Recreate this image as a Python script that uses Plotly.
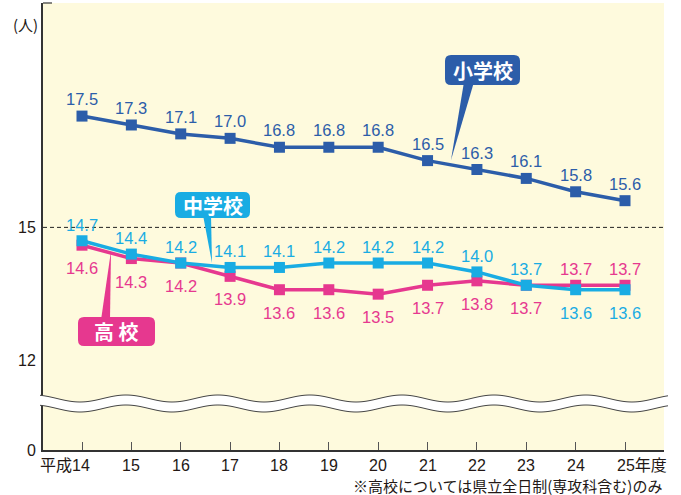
import math
import plotly.graph_objects as go

# ---- data ----
years = ["平成14", "15", "16", "17", "18", "19", "20", "21", "22", "23", "24", "25年度"]
elementary = [17.5, 17.3, 17.1, 17.0, 16.8, 16.8, 16.8, 16.5, 16.3, 16.1, 15.8, 15.6]
junior = [14.7, 14.4, 14.2, 14.1, 14.1, 14.2, 14.2, 14.2, 14.0, 13.7, 13.6, 13.6]
high = [14.6, 14.3, 14.2, 13.9, 13.6, 13.6, 13.5, 13.7, 13.8, 13.7, 13.7, 13.7]
ytick_vals = [10, 12, 15]          # broken axis: bottom of axis labelled 0
ytick_text = ["0", "12", "15"]

BLUE = "#2C5DA9"
CYAN = "#19ACE3"
PINK = "#E6388F"
BG = "#FEFADD"
TXT = "#231815"
NUM_FONT = "Liberation Sans, Noto Sans CJK JP, sans-serif"
JP_FONT = "Noto Sans CJK JP, sans-serif"

W, H = 681, 495
L, R, T, B = 43, 17, 3, 45
PW = W - L - R
PH = H - T - B


def px(x):
    return (x - L) / PW


def py(y):
    return (H - B - y) / PH


xs = list(range(len(years)))
fig = go.Figure()
for vals, col in [(high, PINK), (junior, CYAN), (elementary, BLUE)]:
    fig.add_trace(go.Scatter(
        x=xs, y=vals, mode="lines+markers",
        line=dict(color=col, width=3.5),
        marker=dict(symbol="square", size=11, color=col),
        hoverinfo="skip", showlegend=False))

ann = []
# data labels
for i, v in enumerate(elementary):
    ann.append(dict(x=i, y=v, text=f"{v:.1f}", yshift=17, showarrow=False,
                    xanchor="center", yanchor="middle",
                    font=dict(family=NUM_FONT, size=16.5, color=BLUE)))
for i, (vj, vh) in enumerate(zip(junior, high)):
    j_up = vj >= vh
    ann.append(dict(x=i, y=vj, text=f"{vj:.1f}", yshift=16 if j_up else -23, showarrow=False,
                    xanchor="center", yanchor="middle",
                    font=dict(family=NUM_FONT, size=16.5, color=CYAN)))
    ann.append(dict(x=i, y=vh, text=f"{vh:.1f}", yshift=-23 if j_up else 16, showarrow=False,
                    xanchor="center", yanchor="middle",
                    font=dict(family=NUM_FONT, size=16.5, color=PINK)))

# x tick labels
for i, lab in enumerate(years):
    if i == 0:
        anchor, shift = "right", 10
    elif i == len(years) - 1:
        anchor, shift = "left", -10
    else:
        anchor, shift = "center", 0
    ann.append(dict(x=i, y=0, xref="x", yref="paper", text=lab, showarrow=False,
                    xanchor=anchor, yanchor="top", xshift=shift, yshift=-5,
                    font=dict(family=NUM_FONT, size=16, color=TXT)))
# y tick labels
for v, t in zip(ytick_vals, ytick_text):
    ann.append(dict(x=0, y=v, xref="paper", yref="y", text=t, showarrow=False,
                    xanchor="right", yanchor="middle", xshift=-5,
                    font=dict(family=NUM_FONT, size=16, color=TXT)))

ann.append(dict(x=px(25), y=py(25), xref="paper", yref="paper", text="(人)", showarrow=False,
                xanchor="center", yanchor="middle",
                font=dict(family=JP_FONT, size=15, color=TXT)))
ann.append(dict(x=px(664), y=py(486), xref="paper", yref="paper", xanchor="right",
                yanchor="middle",
                text="※高校については県立全日制(専攻科含む)のみ", showarrow=False,
                font=dict(family=JP_FONT, size=15, color=TXT)))

shapes = []
# dashed reference line at 15
shapes.append(dict(type="line", xref="paper", yref="y", x0=0, x1=1, y0=15, y1=15,
                   line=dict(color="#222", width=1, dash="4px,3px"), layer="below"))
# small top tick
shapes.append(dict(type="line", xref="paper", yref="paper", x0=0, x1=px(52), y0=1, y1=1,
                   line=dict(color="#333", width=1.2)))

# wavy break band (decoration)
xsw = [40 + k * 2 for k in range(315)]
top = [(x, 398.5 + 3.5 * math.cos(2 * math.pi * (x - 80) / 92)) for x in xsw]
bot = [(x, y + 10) for x, y in top]


def pathpts(pts):
    return " L ".join(f"{px(x):.5f},{py(y):.5f}" for x, y in pts)


fill_path = "M " + pathpts(top + bot[::-1]) + " Z"
shapes.append(dict(type="path", xref="paper", yref="paper", path=fill_path,
                   fillcolor="white", line=dict(width=0), layer="above"))
for edge in (top, bot):
    shapes.append(dict(type="path", xref="paper", yref="paper", path="M " + pathpts(edge),
                       line=dict(color="#444", width=1), layer="above"))


def rrect(x0, y0, x1, y1, r):
    P = lambda x, y: f"{px(x):.5f},{py(y):.5f}"
    return (f"M {P(x0 + r, y0)} L {P(x1 - r, y0)} Q {P(x1, y0)} {P(x1, y0 + r)} "
            f"L {P(x1, y1 - r)} Q {P(x1, y1)} {P(x1 - r, y1)} L {P(x0 + r, y1)} "
            f"Q {P(x0, y1)} {P(x0, y1 - r)} L {P(x0, y0 + r)} Q {P(x0, y0)} {P(x0 + r, y0)} Z")


def wedge(b0, b1, tip):
    P = lambda x, y: f"{px(x):.5f},{py(y):.5f}"
    return f"M {P(*b0)} L {P(*b1)} L {P(*tip)} Z"


callouts = [
    ("小学校", BLUE, (445, 55, 520, 85), ((464, 82), (474, 82), (451, 160))),
    ("中学校", CYAN, (175, 192, 250, 218), ((203, 215), (211, 215), (212, 263))),
    ("高 校", PINK, (78, 317, 155, 346), ((101, 320), (110, 320), (111, 251))),
]
for txt, col, (x0, y0, x1, y1), (b0, b1, tip) in callouts:
    shapes.append(dict(type="path", xref="paper", yref="paper", path=wedge(b0, b1, tip),
                       fillcolor=col, line=dict(width=0), layer="above"))
    shapes.append(dict(type="path", xref="paper", yref="paper", path=rrect(x0, y0, x1, y1, 6),
                       fillcolor=col, line=dict(width=0), layer="above"))
    ann.append(dict(x=px((x0 + x1) / 2), y=py((y0 + y1) / 2), xref="paper", yref="paper",
                    xanchor="center", yanchor="middle",
                    text=f"<b>{txt}</b>", showarrow=False,
                    font=dict(family=JP_FONT, size=20, color="white")))

fig.update_layout(
    width=W, height=H,
    margin=dict(l=L, r=R, t=T, b=B),
    paper_bgcolor="white", plot_bgcolor=BG,
    xaxis=dict(range=[-0.79, len(years) - 1 + 0.79], tickvals=xs, ticktext=[""] * len(xs),
               ticks="inside", ticklen=8, tickcolor="#555", tickwidth=1,
               showline=True, linecolor="#333", linewidth=1.5, showgrid=False,
               zeroline=False, fixedrange=True),
    yaxis=dict(range=[10, 20.04], tickvals=ytick_vals, ticktext=[""] * len(ytick_vals),
               ticks="", showline=True, linecolor="#333", linewidth=1.5, showgrid=False,
               zeroline=False, fixedrange=True),
    annotations=ann, shapes=shapes,
)
fig.write_html("out.html", config={"displayModeBar": False},
               post_script="document.body.style.margin='0';document.body.style.padding='0';")
